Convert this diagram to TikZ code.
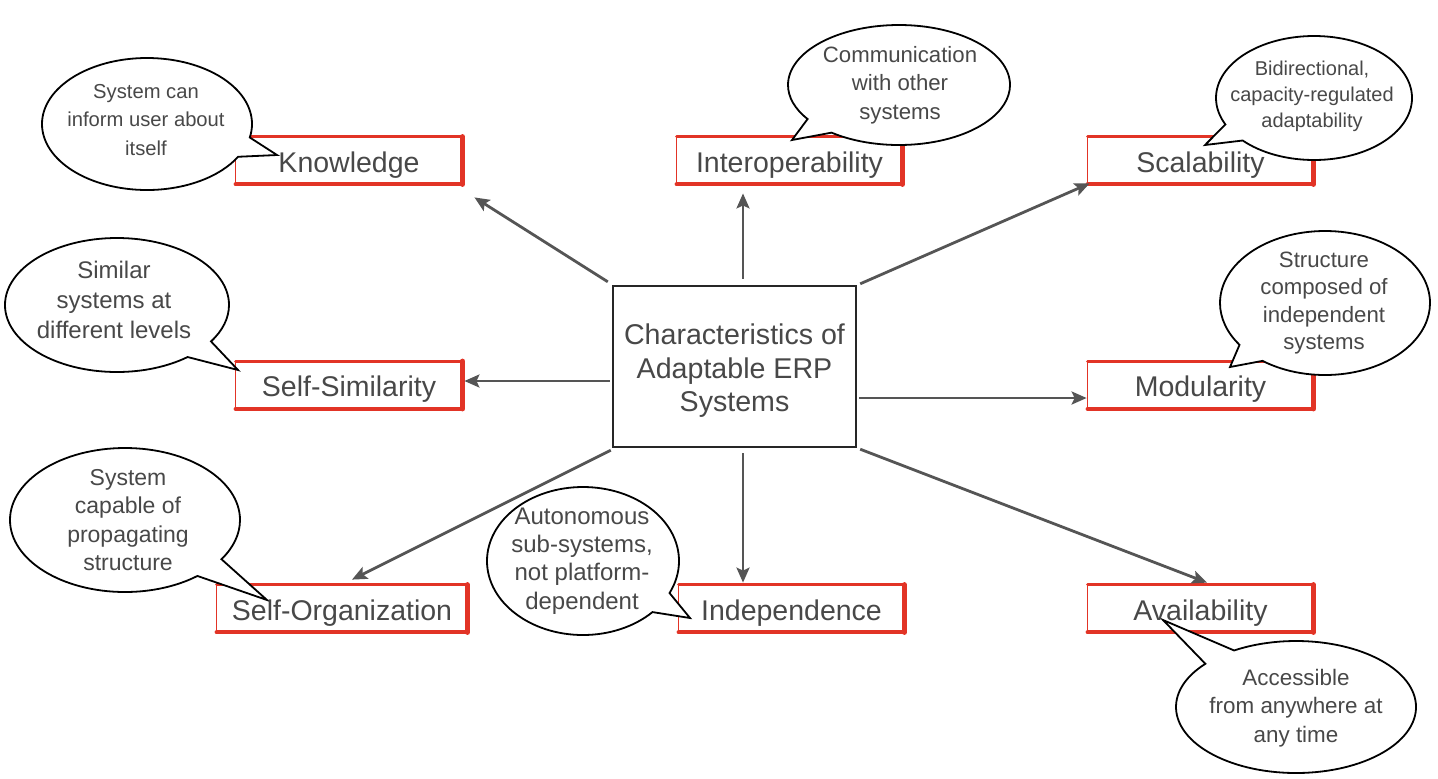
\documentclass[tikz,border=0pt]{standalone}
\usepackage{fontspec}
\setmainfont{Liberation Sans}
\usetikzlibrary{shapes.callouts,arrows.meta}
\definecolor{inkgray}{RGB}{72,72,72}
\definecolor{arrgray}{RGB}{85,85,85}
\definecolor{framered}{RGB}{226,52,38}
\pgfdeclarelayer{framelayer}
\pgfdeclarelayer{bubblelayer}
\pgfsetlayers{framelayer,bubblelayer,main}

% red sketch frame around a topic node: thin left, heavier top, heavy right and bottom
\newcommand\topicframe[1]{%
  \draw[framered, line width=0.8pt, line cap=round] (#1.south west) -- (#1.north west);
  \draw[framered, line width=1.6pt, line cap=round] (#1.north west) -- (#1.north east);
  \draw[framered, line width=2.5pt, line cap=round] (#1.north east) -- (#1.south east);
  \draw[framered, line width=2pt, line cap=round] (#1.south east) -- (#1.south west);
}

\begin{document}
\begin{tikzpicture}[x=0.5pt,y=-0.5pt,
  central/.style={draw=black!85, line width=1.2pt, fill=white,
    minimum width=121.5pt, minimum height=80.5pt, inner sep=0pt},
  centraltext/.style={align=center, text=inkgray, inner sep=0pt,
    font=\fontsize{14.3}{16.75}\selectfont},
  topic/.style={minimum height=23.5pt, inner sep=0pt, text=inkgray,
    text height=11.5pt, text depth=0pt,
    font=\fontsize{14.25}{16}\selectfont},
  bubble/.style={ellipse callout, draw=black, line width=0.9pt, fill=white,
    inner sep=0pt, callout pointer arc=18},
  note/.style={align=center, text=inkgray, inner sep=0pt},
  arr/.style={draw=arrgray, line width=1.4pt,
    -{Stealth[length=7.5pt,width=6.5pt,inset=1.5pt]}}]

\useasboundingbox (0,0) rectangle (1438,778);

% central concept
\node[central] (c) at (734.5,366.5) {};
\node[centraltext] (ct) at (734.5,371) {Characteristics of\\Adaptable ERP\\Systems};

% characteristics
\node[topic, minimum width=113pt]   (kn) at (349,160.5)   {Knowledge};
\node[topic, minimum width=112.5pt] (ip) at (789.5,160.5) {Interoperability};
\node[topic, minimum width=112.5pt] (sc) at (1200.5,160.5) {Scalability};
\node[topic, minimum width=113pt]   (ss) at (349,385)     {Self-Similarity};
\node[topic, minimum width=112.5pt] (mo) at (1200.5,385)  {Modularity};
\node[topic, minimum width=125pt]   (so) at (342,608.5)   {Self-Organization};
\node[topic, minimum width=112.5pt] (in) at (791.5,608.5) {Independence};
\node[topic, minimum width=112.5pt] (av) at (1200.5,608.5) {Availability};

\begin{pgfonlayer}{framelayer}
  \topicframe{kn}\topicframe{ip}\topicframe{sc}\topicframe{ss}
  \topicframe{mo}\topicframe{so}\topicframe{in}\topicframe{av}
\end{pgfonlayer}

% explanatory speech bubbles
\begin{pgfonlayer}{bubblelayer}
  \node[bubble, minimum width=105pt, minimum height=66pt,
        callout absolute pointer={(277,155)}] (b1) at (147,124) {};
  \node[note, font=\fontsize{10.1}{14.25}\selectfont] (t1) at (146,120)
       {System can\\inform user about\\itself};

  \node[bubble, minimum width=111pt, minimum height=60pt,
        callout absolute pointer={(792,140)}] (b2) at (899,85) {};
  \node[note, font=\fontsize{11.1}{14.25}\selectfont] (t2) at (900,85)
       {Communication\\with other\\systems};

  \node[bubble, minimum width=98pt, minimum height=62pt,
        callout absolute pointer={(1205,145)}] (b3) at (1314,98) {};
  \node[note, font=\fontsize{10}{13}\selectfont] (t3) at (1312,96)
       {Bidirectional,\\capacity-regulated\\adaptability};

  \node[bubble, minimum width=112pt, minimum height=67pt,
        callout absolute pointer={(238,370)}] (b4) at (117,305) {};
  \node[note, font=\fontsize{12}{15}\selectfont] (t4) at (114,300)
       {Similar\\systems at\\different levels};

  \node[bubble, minimum width=105pt, minimum height=72pt,
        callout absolute pointer={(1230,367)}] (b5) at (1325,303) {};
  \node[note, font=\fontsize{11.1}{13.6}\selectfont] (t5) at (1324,303)
       {Structure\\composed of\\independent\\systems};

  \node[bubble, minimum width=115pt, minimum height=72pt,
        callout absolute pointer={(267,600)}] (b6) at (125,520) {};
  \node[note, font=\fontsize{11.5}{14.3}\selectfont] (t6) at (128,520)
       {System\\capable of\\propagating\\structure};

  \node[bubble, minimum width=96pt, minimum height=74pt,
        callout absolute pointer={(690,618)}] (b7) at (583,561) {};
  \node[note, font=\fontsize{12}{14.2}\selectfont] (t7) at (582,561)
       {Autonomous\\sub-systems,\\not platform-\\dependent};

  \node[bubble, minimum width=120pt, minimum height=66pt,
        callout absolute pointer={(1163,620)}] (b8) at (1296,707) {};
  \node[note, font=\fontsize{11.2}{14.25}\selectfont] (t8) at (1296,708)
       {Accessible\\from anywhere at\\any time};
\end{pgfonlayer}

% connectors from the central concept
\draw[arr] ([shift={(-4,-3)}]c.north west) -- ([shift={(12,13)}]kn.south east);
\draw[arr] ([shift={(8.5,-6)}]c.north) -- ([shift={(-46.5,9)}]ip.south);
\draw[arr] ([shift={(3,-1)}]c.north east) -- ([shift={(2,-1)}]sc.south west);
\draw[arr] ([shift={(-2,14.5)}]c.west) -- ([shift={(2,-4)}]ss.east);
\draw[arr] ([shift={(2,31.5)}]c.east) -- ([shift={(-1,13)}]mo.west);
\draw[arr] ([shift={(-1,2)}]c.south west) -- ([shift={(10,-5)}]so.north);
\draw[arr] ([shift={(8.5,5)}]c.south) -- ([shift={(-48.5,-2)}]in.north);
\draw[arr] ([shift={(3,1)}]c.south east) -- ([shift={(6.5,-2)}]av.north);

\end{tikzpicture}
\end{document}
